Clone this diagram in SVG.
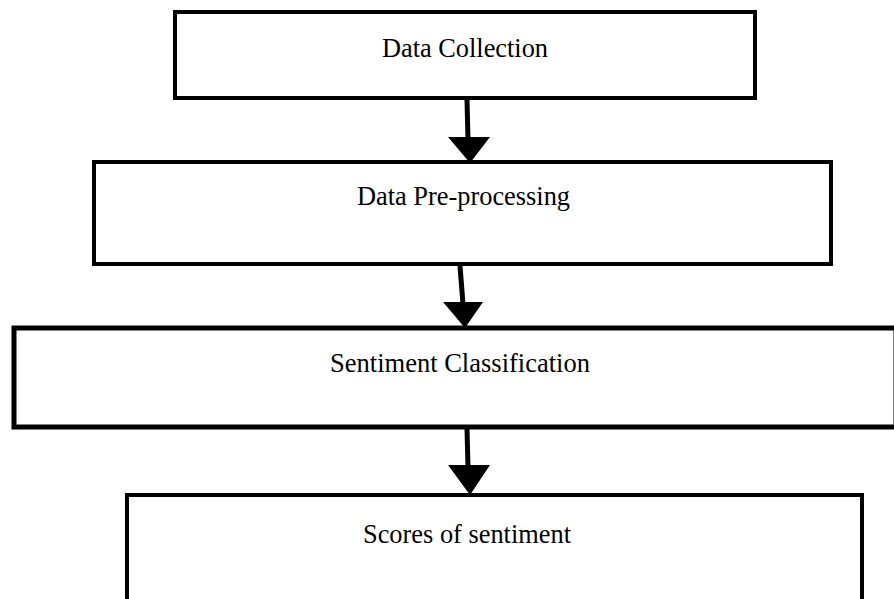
<svg xmlns="http://www.w3.org/2000/svg" width="894" height="599" viewBox="0 0 894 599">
<style>
.box{fill:#fff;stroke:#000;stroke-width:4}
.lbl{font-family:"Liberation Serif","Times New Roman",serif;font-size:27px;fill:#000}
.shaft{stroke:#000;stroke-width:5;fill:none}
.head{fill:#000}
</style>
<rect width="894" height="599" fill="#fff"/>
<g id="n1">
<rect class="box" x="175" y="12" width="580" height="86"/>
<text class="lbl" x="382" y="57" textLength="166" lengthAdjust="spacingAndGlyphs">Data Collection</text>
</g>
<g id="n2">
<rect class="box" x="94" y="162" width="737" height="102"/>
<text class="lbl" x="357" y="205" textLength="213" lengthAdjust="spacingAndGlyphs">Data Pre-processing</text>
</g>
<g id="n3">
<rect class="box" x="14" y="328" width="882" height="99" style="stroke-width:5"/>
<text class="lbl" x="330" y="372" textLength="260" lengthAdjust="spacingAndGlyphs">Sentiment Classification</text>
</g>
<g id="n4">
<rect class="box" x="127" y="495" width="735" height="110"/>
<text class="lbl" x="363" y="543" textLength="208" lengthAdjust="spacingAndGlyphs">Scores of sentiment</text>
</g>
<g id="connectors">
<line class="shaft" x1="467" y1="100" x2="468" y2="140"/>
<polygon class="head" points="448,137 490,137 470,163"/>
<line class="shaft" x1="460" y1="266" x2="463" y2="304"/>
<polygon class="head" points="443,302 483,302 465,328"/>
<line class="shaft" x1="467" y1="429" x2="468" y2="467"/>
<polygon class="head" points="448,465 490,465 470,495"/>
</g>
</svg>
